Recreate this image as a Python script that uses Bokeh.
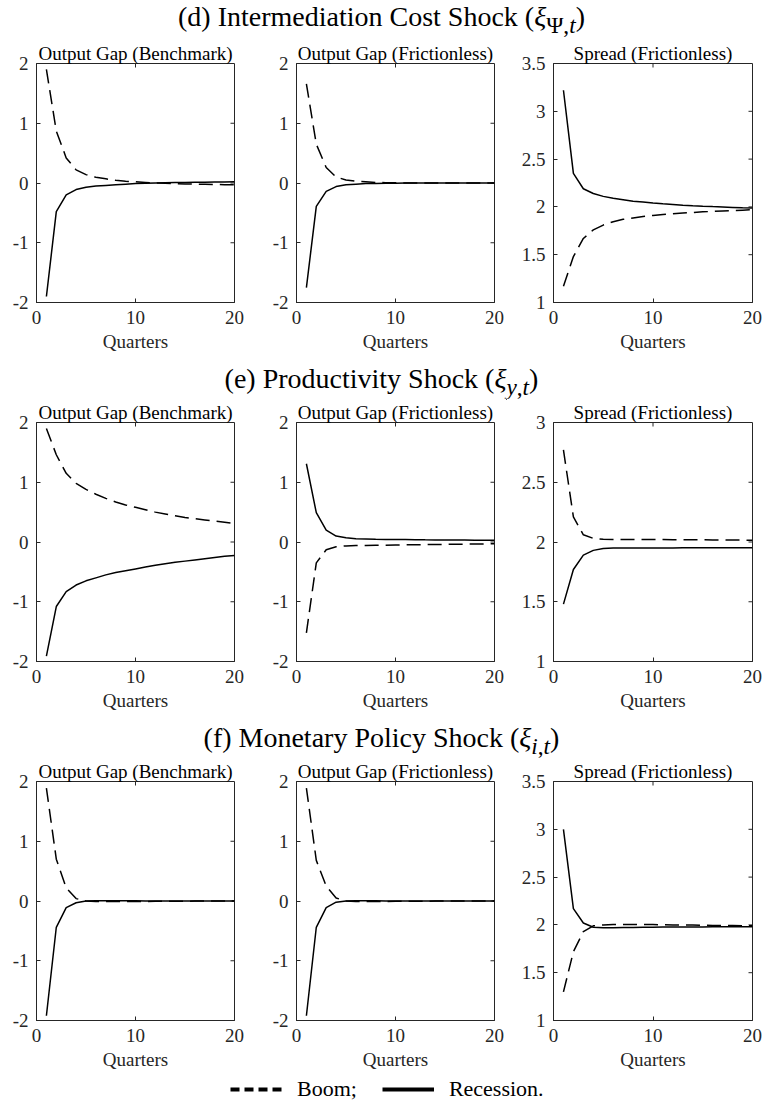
from math import pi

from bokeh.plotting import figure
from bokeh.layouts import column, row
from bokeh.models import (Div, Range1d, FixedTicker, NumeralTickFormatter,
                          Legend, LegendItem, Title)
from bokeh.embed import file_html
from bokeh.resources import INLINE

# ---------------------------------------------------------------- data
quarters = list(range(1, 21))

# (d) intermediation cost shock
d_bench_boom = [1.90, 0.87, 0.42, 0.22, 0.14, 0.095, 0.07, 0.045, 0.03, 0.02,
                0.01, 0.0, -0.005, -0.01, -0.015, -0.02, -0.022, -0.025, -0.028, -0.03]
d_bench_rec = [-1.90, -0.48, -0.20, -0.11, -0.07, -0.05, -0.04, -0.03, -0.02, -0.01,
               -0.005, 0.0, 0.005, 0.008, 0.01, 0.012, 0.014, 0.016, 0.018, 0.02]
d_fric_boom = [1.66, 0.65, 0.26, 0.10, 0.05, 0.03, 0.02, 0.01, 0.005, 0.003,
               0.0, 0.0, 0.0, 0.0, 0.0, 0.0, 0.0, 0.0, 0.0, 0.0]
d_fric_rec = [-1.75, -0.39, -0.14, -0.06, -0.03, -0.02, -0.01, -0.007, -0.005, -0.003,
              0.0, 0.0, 0.0, 0.0, 0.0, 0.0, 0.0, 0.0, 0.0, 0.0]
d_spr_boom = [1.17, 1.48, 1.67, 1.76, 1.81, 1.845, 1.87, 1.885, 1.90, 1.91,
              1.92, 1.928, 1.935, 1.942, 1.948, 1.953, 1.958, 1.962, 1.966, 1.97]
d_spr_rec = [3.22, 2.35, 2.19, 2.14, 2.11, 2.09, 2.075, 2.06, 2.05, 2.04,
             2.032, 2.025, 2.018, 2.012, 2.007, 2.003, 2.0, 1.995, 1.99, 1.988]

# (e) productivity shock
e_bench_boom = [1.90, 1.46, 1.15, 0.98, 0.88, 0.80, 0.73, 0.67, 0.62, 0.58,
                0.54, 0.50, 0.47, 0.44, 0.41, 0.39, 0.37, 0.35, 0.33, 0.31]
e_bench_rec = [-1.91, -1.08, -0.83, -0.72, -0.65, -0.60, -0.55, -0.51, -0.48, -0.45,
               -0.42, -0.39, -0.365, -0.34, -0.32, -0.30, -0.28, -0.26, -0.24, -0.225]
e_fric_boom = [-1.52, -0.35, -0.13, -0.08, -0.065, -0.06, -0.058, -0.055, -0.053, -0.05,
               -0.048, -0.046, -0.044, -0.042, -0.04, -0.038, -0.036, -0.034, -0.032, -0.03]
e_fric_rec = [1.31, 0.49, 0.20, 0.10, 0.07, 0.055, 0.05, 0.045, 0.042, 0.04,
              0.04, 0.038, 0.036, 0.035, 0.034, 0.033, 0.032, 0.031, 0.03, 0.03]
e_spr_boom = [2.77, 2.21, 2.06, 2.03, 2.022, 2.02, 2.02, 2.02, 2.02, 2.02,
              2.02, 2.019, 2.019, 2.018, 2.018, 2.017, 2.017, 2.016, 2.016, 2.015]
e_spr_rec = [1.48, 1.77, 1.89, 1.93, 1.945, 1.95, 1.95, 1.95, 1.95, 1.95,
             1.95, 1.95, 1.951, 1.951, 1.951, 1.951, 1.952, 1.952, 1.952, 1.952]

# (f) monetary policy shock
f_bench_boom = [1.89, 0.70, 0.22, 0.04, 0.0, -0.01, -0.01, -0.01, -0.01, -0.01,
                -0.008, -0.006, -0.005, -0.004, -0.003, -0.002, -0.001, 0.0, 0.0, 0.0]
f_bench_rec = [-1.92, -0.44, -0.11, -0.03, 0.0, 0.005, 0.005, 0.005, 0.004, 0.003,
               0.002, 0.001, 0.0, 0.0, 0.0, 0.0, 0.0, 0.0, 0.0, 0.0]
f_fric_boom = [1.89, 0.68, 0.25, 0.05, 0.0, -0.01, -0.01, -0.01, -0.008, -0.006,
               -0.005, -0.004, -0.003, -0.002, -0.001, 0.0, 0.0, 0.0, 0.0, 0.0]
f_fric_rec = [-1.92, -0.44, -0.11, -0.02, 0.0, 0.004, 0.004, 0.003, 0.002, 0.001,
              0.0, 0.0, 0.0, 0.0, 0.0, 0.0, 0.0, 0.0, 0.0, 0.0]
f_spr_boom = [1.30, 1.72, 1.93, 1.99, 2.0, 2.005, 2.005, 2.005, 2.004, 2.003,
              2.002, 2.0, 2.0, 1.998, 1.996, 1.995, 1.994, 1.993, 1.992, 1.99]
f_spr_rec = [3.00, 2.17, 2.02, 1.975, 1.97, 1.97, 1.972, 1.974, 1.975, 1.976,
             1.977, 1.978, 1.978, 1.979, 1.979, 1.98, 1.98, 1.98, 1.98, 1.98]

section_titles = [
    "(d) Intermediation Cost Shock (<i>&xi;</i><sub>&Psi;,<i>t</i></sub>)",
    "(e) Productivity Shock (<i>&xi;</i><sub><i>y</i>,<i>t</i></sub>)",
    "(f) Monetary Policy Shock (<i>&xi;</i><sub><i>i</i>,<i>t</i></sub>)",
]
panel_titles = ["Output Gap (Benchmark)", "Output Gap (Frictionless)", "Spread (Frictionless)"]
legend_labels = ["Boom;", "Recession."]
x_label = "Quarters"
x_range = (0, 20)
x_ticks = [0, 10, 20]
gap_range = (-2, 2)
gap_ticks = [-2, -1, 0, 1, 2]
spread_range_wide = (1, 3.5)
spread_ticks_wide = [1, 1.5, 2, 2.5, 3, 3.5]
spread_range_narrow = (1, 3)
spread_ticks_narrow = [1, 1.5, 2, 2.5, 3]

rows_data = [
    [(d_bench_boom, d_bench_rec, gap_range, gap_ticks),
     (d_fric_boom, d_fric_rec, gap_range, gap_ticks),
     (d_spr_boom, d_spr_rec, spread_range_wide, spread_ticks_wide)],
    [(e_bench_boom, e_bench_rec, gap_range, gap_ticks),
     (e_fric_boom, e_fric_rec, gap_range, gap_ticks),
     (e_spr_boom, e_spr_rec, spread_range_narrow, spread_ticks_narrow)],
    [(f_bench_boom, f_bench_rec, gap_range, gap_ticks),
     (f_fric_boom, f_fric_rec, gap_range, gap_ticks),
     (f_spr_boom, f_spr_rec, spread_range_wide, spread_ticks_wide)],
]

# ---------------------------------------------------------------- style
SERIF = "Liberation Serif"
INK = "#262626"
FONT = "19px"
DASH = "14 7"
LW = 1.5
TICK = 4

# (left border, frame width, right border) for the three columns
COLS = [(36, 198, 12), (50, 198, 12), (47, 199, 11)]
TOP, FRAME_H, BOTTOM = 24, 239, 56
FIG_H = TOP + FRAME_H + BOTTOM
HEAD_H = [39, 40, 40]
LEGEND_H = 1108 - sum(HEAD_H) - 3 * FIG_H


def style_axis(ax, ticks):
    ax.ticker = FixedTicker(ticks=ticks, minor_ticks=[])
    ax.formatter = NumeralTickFormatter(format="0.[0]")
    ax.axis_line_color = INK
    ax.axis_line_width = 1
    ax.major_tick_line_color = INK
    ax.major_tick_line_width = 1
    ax.major_tick_in = TICK
    ax.major_tick_out = 0
    ax.minor_tick_in = 0
    ax.minor_tick_out = 0
    ax.major_label_text_font = SERIF
    ax.major_label_text_font_size = FONT
    ax.major_label_text_color = INK


def make_panel(title, boom, rec, yr, yticks, col):
    left, fw, right = col
    p = figure(width=left + fw + right, height=FIG_H,
               x_range=Range1d(*x_range), y_range=Range1d(*yr),
               output_backend="svg", toolbar_location=None,
               min_border_left=left, min_border_right=right,
               min_border_top=TOP, min_border_bottom=BOTTOM)
    p.grid.visible = False
    p.outline_line_color = INK
    p.outline_line_width = 1
    p.outline_line_alpha = 1

    xa = p.xaxis[0]
    style_axis(xa, x_ticks)
    xa.major_label_standoff = 8
    xa.axis_label = x_label
    xa.axis_label_text_font = SERIF
    xa.axis_label_text_font_size = FONT
    xa.axis_label_text_font_style = "normal"
    xa.axis_label_text_color = INK
    xa.axis_label_standoff = 4

    ya = p.yaxis[0]
    style_axis(ya, yticks)
    ya.major_label_standoff = 8

    # inward tick marks on the top and right edges of the box
    # (half of each dash falls outside the frame and is clipped away)
    inner_x = [t for t in x_ticks if x_range[0] < t < x_range[1]]
    inner_y = [t for t in yticks if yr[0] < t < yr[1]]
    p.scatter(inner_x, [yr[1]] * len(inner_x), marker="dash", angle=pi / 2,
              size=2 * TICK, line_color=INK, line_width=1)
    p.scatter([x_range[1]] * len(inner_y), inner_y, marker="dash",
              size=2 * TICK, line_color=INK, line_width=1)

    p.add_layout(Title(text=title, align="center", text_font=SERIF,
                       text_font_size=FONT, text_font_style="normal",
                       text_color="black", standoff=0, offset=0), "above")

    p.line(quarters, rec, line_color="black", line_width=LW)
    p.line(quarters, boom, line_color="black", line_width=LW, line_dash=DASH)
    return p


blocks = []
for i, (heading, panels) in enumerate(zip(section_titles, rows_data)):
    h = HEAD_H[i]
    blocks.append(Div(
        text=(f'<div style="width:763px;height:{h}px;box-sizing:border-box;'
              f'padding-top:{6 if i else 2}px;text-align:center;'
              f'font-family:\'{SERIF}\';font-size:28px;line-height:30px;color:black;'
              f'white-space:nowrap">{heading}</div>'),
        width=763, height=h, margin=0))
    figs = [make_panel(t, b, r, yr, yt, c)
            for t, (b, r, yr, yt), c in zip(panel_titles, panels, COLS)]
    blocks.append(row(*figs, spacing=0))

# legend strip: the key renderers carry a series but sit outside the visible range
leg = figure(width=763, height=LEGEND_H, output_backend="svg", toolbar_location=None,
             x_range=Range1d(-2, -1), y_range=Range1d(-2, -1),
             x_axis_location=None, y_axis_location=None, min_border=0)
leg.grid.visible = False
leg.outline_line_color = None
r_boom = leg.line(quarters, f_spr_boom, line_color="black", line_width=4, line_dash="9 5")
r_rec = leg.line(quarters, f_spr_rec, line_color="black", line_width=4)
legend = Legend(items=[LegendItem(label=legend_labels[0], renderers=[r_boom]),
                       LegendItem(label=legend_labels[1], renderers=[r_rec])],
                orientation="horizontal", location=(230, LEGEND_H - 26),
                glyph_width=52, glyph_height=20, label_standoff=15, spacing=25,
                padding=0, margin=0, border_line_color=None,
                background_fill_alpha=0, label_text_font=SERIF,
                label_text_font_size="22px", label_text_color="black",
                label_height=20)
leg.add_layout(legend)
blocks.append(leg)

page = column(*blocks, spacing=0)
open("out.html", "w").write(file_html(page, INLINE, title="Impulse responses"))
